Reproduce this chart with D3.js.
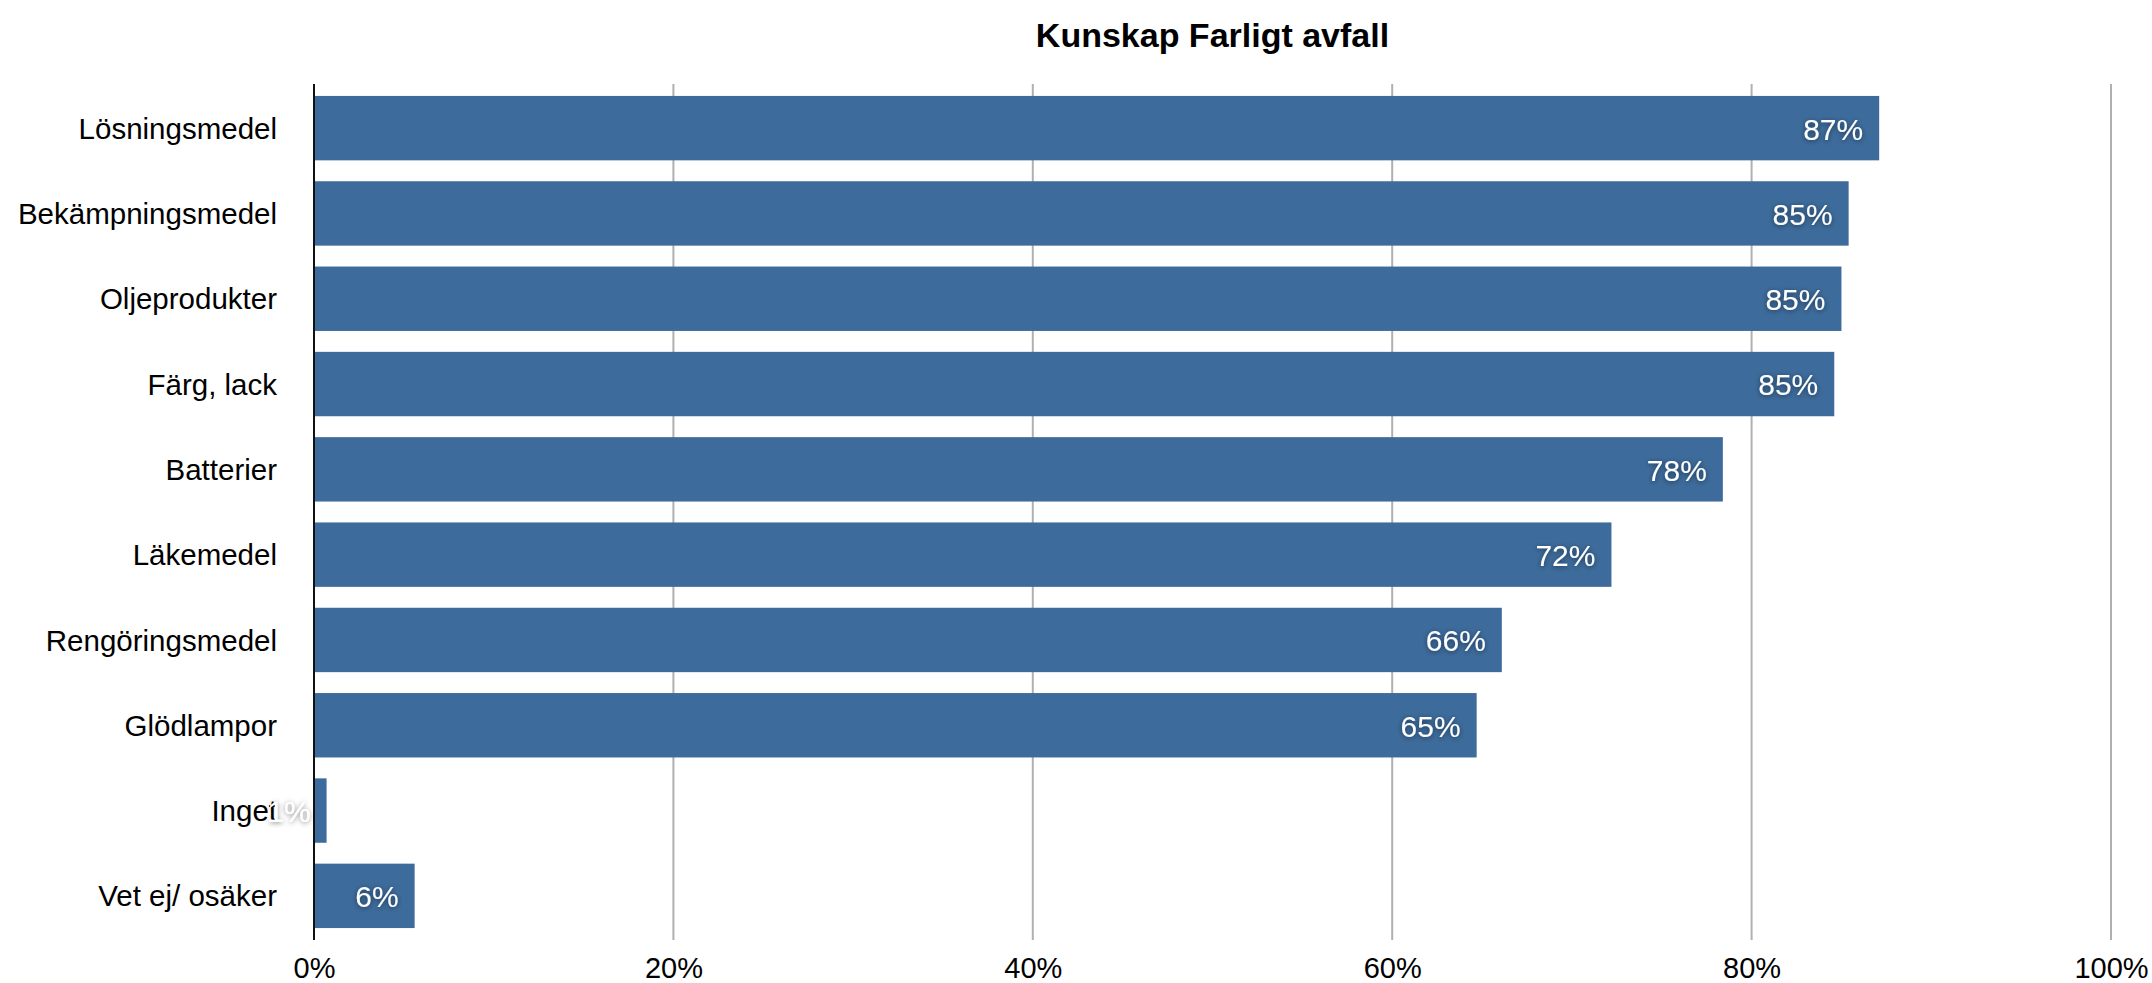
<!DOCTYPE html>
<html>
<head>
<meta charset="utf-8">
<script src="https://cdn.jsdelivr.net/npm/d3@7"></script>
<style>
  body { margin: 0; background: #fff; }
  svg { display: block; font-family: "Liberation Sans", Arial, Helvetica, sans-serif; }
</style>
</head>
<body>
<div id="chart"></div>
<script>
// Chart data
const categories = ['Lösningsmedel', 'Bekämpningsmedel', 'Oljeprodukter', 'Färg, lack', 'Batterier',
  'Läkemedel', 'Rengöringsmedel', 'Glödlampor', 'Inget', 'Vet ej/ osäker'];
const values = [87.1, 85.4, 85.0, 84.6, 78.4, 72.2, 66.1, 64.7, 0.7, 5.6];
const xTicks = [0, 20, 40, 60, 80, 100];
const title = 'Kunskap Farligt avfall';

// Dimensions
const width = 2152;
const height = 983;
const margin = { top: 84, right: 41, bottom: 43, left: 314 };

const svg = d3.select('#chart').append('svg')
  .attr('width', width)
  .attr('height', height);

// Soft shadow behind the value labels
const defs = svg.append('defs');
defs.append('filter')
  .attr('id', 'shadow')
  .attr('x', '-30%').attr('y', '-30%')
  .attr('width', '160%').attr('height', '160%')
  .append('feDropShadow')
  .attr('dx', 0).attr('dy', 1)
  .attr('stdDeviation', 2.5)
  .attr('flood-color', '#000')
  .attr('flood-opacity', 0.5);

// Scales
const xScale = d3.scaleLinear()
  .domain([0, 100])
  .range([margin.left, width - margin.right]);

const yScale = d3.scaleBand()
  .domain(categories)
  .range([margin.top, height - margin.bottom])
  .paddingInner(0.245)
  .paddingOuter(0.14);

// Title
svg.append('text')
  .attr('x', (xScale(0) + xScale(100)) / 2)
  .attr('y', 47)
  .attr('text-anchor', 'middle')
  .attr('font-size', 34)
  .attr('font-weight', 'bold')
  .attr('fill', '#000')
  .text(title);

// Gridlines
svg.append('g')
  .selectAll('line')
  .data(xTicks.filter(d => d > 0))
  .enter().append('line')
  .attr('x1', d => xScale(d))
  .attr('x2', d => xScale(d))
  .attr('y1', margin.top)
  .attr('y2', height - margin.bottom)
  .attr('stroke', '#b0b0b0')
  .attr('stroke-width', 2);

// X axis tick labels
const xAxis = svg.append('g')
  .attr('transform', `translate(0,${height - margin.bottom})`)
  .call(d3.axisBottom(xScale).tickValues(xTicks).tickSize(0).tickPadding(0).tickFormat(d => d + '%'));
xAxis.select('.domain').remove();
xAxis.selectAll('text')
  .attr('y', 38)
  .attr('dy', 0)
  .attr('font-size', 29)
  .attr('font-family', '"Liberation Sans", Arial, Helvetica, sans-serif')
  .attr('fill', '#000');

// Category labels
svg.append('g')
  .selectAll('text')
  .data(categories)
  .enter().append('text')
  .attr('x', xScale(0) - 37)
  .attr('y', d => yScale(d) + yScale.bandwidth() / 2)
  .attr('dy', '0.36em')
  .attr('text-anchor', 'end')
  .attr('font-size', 29.5)
  .attr('fill', '#000')
  .text(d => d);

// Bars
svg.append('g')
  .selectAll('rect')
  .data(values)
  .enter().append('rect')
  .attr('x', xScale(0))
  .attr('y', (d, i) => yScale(categories[i]))
  .attr('width', d => xScale(d) - xScale(0))
  .attr('height', yScale.bandwidth())
  .attr('fill', '#3d6b9b');

// Value labels
const fmt = d => Math.round(d) + '%';
svg.append('g')
  .selectAll('text')
  .data(values)
  .enter().append('text')
  .attr('x', d => xScale(d) - 16)
  .attr('y', (d, i) => yScale(categories[i]) + yScale.bandwidth() / 2)
  .attr('dy', '0.38em')
  .attr('text-anchor', 'end')
  .attr('font-size', 30)
  .attr('fill', '#fff')
  .attr('filter', 'url(#shadow)')
  .text(fmt);

// Zero axis line
svg.append('line')
  .attr('x1', xScale(0))
  .attr('x2', xScale(0))
  .attr('y1', margin.top)
  .attr('y2', height - margin.bottom)
  .attr('stroke', '#111')
  .attr('stroke-width', 2);
</script>
</body>
</html>
